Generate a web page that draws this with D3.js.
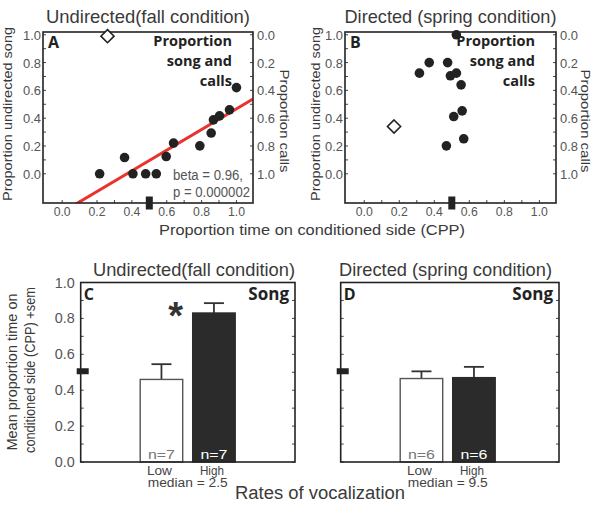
<!DOCTYPE html>
<html><head><meta charset="utf-8">
<script src="https://cdn.jsdelivr.net/npm/d3@7"></script>
<style>body{margin:0;background:#fff}</style>
</head><body><svg id="c" width="601" height="507"></svg>
<script>
// ---------- data ----------
const cppTicks = [0, 0.2, 0.4, 0.6, 0.8, 1.0];
const songTicks = [0, 0.2, 0.4, 0.6, 0.8, 1.0];
const callTicks = [0, 0.2, 0.4, 0.6, 0.8, 1.0];
const aCPP  = [0.215, 0.358, 0.406, 0.479, 0.54, 0.597, 0.639, 0.79, 0.855, 0.868, 0.903, 0.96, 1.0];
const aSong = [0.0, 0.117, 0.0, 0.0, 0.0, 0.124, 0.221, 0.201, 0.293, 0.388, 0.417, 0.46, 0.62];
const aDiamondCPP = [0.26], aDiamondSong = [0.99];
const bCPP  = [0.526, 0.315, 0.371, 0.476, 0.492, 0.526, 0.553, 0.559, 0.511, 0.568, 0.469];
const bSong = [1.0, 0.724, 0.80, 0.80, 0.705, 0.724, 0.64, 0.453, 0.412, 0.252, 0.201];
const bDiamondCPP = [0.17], bDiamondSong = [0.34];
const chance = 0.5;
const regSlope = 0.744, regIntercept = -0.276;
const barCategories = ["Low", "High"];
const barTicks = [0, 0.2, 0.4, 0.6, 0.8, 1.0];
const cMeans = [0.46, 0.83], cSem = [0.085, 0.055], cN = ["n=7", "n=7"];
const dMeans = [0.465, 0.47], dSem = [0.04, 0.06], dN = ["n=6", "n=6"];

// ---------- drawing ----------
const SANS = "'Liberation Sans',Arial,sans-serif";
const BOLD = "'Open Sans','Noto Sans',sans-serif";
const TXT = "#3a3a3a";
const svg = d3.select("#c");

function txt(g, o) {
  const t = g.append("text")
    .attr("transform", `translate(${o.x},${o.y})` + (o.rot ? ` rotate(${o.rot})` : ""))
    .attr("text-anchor", o.anchor || "start")
    .attr("font-family", o.family || SANS).attr("font-size", o.size || 14)
    .attr("font-weight", o.weight || 400).attr("fill", o.fill || TXT).text(o.text);
  if (o.len) t.attr("textLength", o.len).attr("lengthAdjust", "spacingAndGlyphs");
  return t;
}

function frame(g, x0, x1, y0, y1) {
  g.append("rect").attr("x", x0).attr("y", y1).attr("width", x1 - x0).attr("height", y0 - y1)
    .attr("fill", "none").attr("stroke", "#222").attr("stroke-width", 1.6);
}

function scatterPanel(opt) {
  const g = svg.append("g");
  const x = d3.scaleLinear([-0.11, 1.095], opt.xr);
  const y = d3.scaleLinear([-0.21, 1.02], [203, 32]);
  const [L, R] = opt.xr;
  const minor = d3.range(0, 1.01, 0.1);
  g.selectAll(".bt").data(minor).join("line")
    .attr("x1", d => x(d)).attr("x2", d => x(d)).attr("y1", 203).attr("y2", 200).attr("stroke", "#444");
  g.selectAll(".lt").data(minor).join("line")
    .attr("x1", L).attr("x2", L + 3).attr("y1", d => y(d)).attr("y2", d => y(d)).attr("stroke", "#444");
  g.selectAll(".rt").data(minor).join("line")
    .attr("x1", R).attr("x2", R - 3).attr("y1", d => y(d)).attr("y2", d => y(d)).attr("stroke", "#444");
  cppTicks.forEach(d => txt(g, {x: x(d), y: 216, anchor: "middle", size: 12.5, len: 17, fill: "#555", text: d.toFixed(1)}));
  songTicks.forEach(d => txt(g, {x: L - 2, y: y(d) + 5, anchor: "end", size: 13.5, len: 18, fill: "#555", text: d.toFixed(1)}));
  callTicks.forEach(d => txt(g, {x: R + 4, y: y(1 - d) + 5, size: 13.5, len: 18, fill: "#555", text: d.toFixed(1)}));
  if (opt.reg) {
    const id = "clip" + opt.letter;
    g.append("clipPath").attr("id", id).append("rect")
      .attr("x", L).attr("y", 32).attr("width", R - L).attr("height", 171);
    const xs = x.domain();
    g.append("line").attr("clip-path", `url(#${id})`)
      .attr("x1", x(xs[0])).attr("y1", y(regIntercept + regSlope * xs[0]))
      .attr("x2", x(xs[1])).attr("y2", y(regIntercept + regSlope * xs[1]))
      .attr("stroke", "#e8332e").attr("stroke-width", 3);
  }
  frame(g, L, R, 203, 32);
  g.selectAll(".pt").data(opt.cpp.map((c, i) => [c, opt.song[i]])).join("circle")
    .attr("cx", d => x(d[0])).attr("cy", d => y(d[1])).attr("r", 4.8).attr("fill", "#222");
  g.selectAll(".dm").data(opt.dcpp.map((c, i) => [c, opt.dsong[i]])).join("path")
    .attr("d", d3.symbol(d3.symbolDiamond2, 110))
    .attr("transform", d => `translate(${x(d[0])},${y(d[1])})`)
    .attr("fill", "#fff").attr("stroke", "#222").attr("stroke-width", 1.6);
  g.append("rect").attr("x", x(chance) - 3.5).attr("y", 196.5).attr("width", 7).attr("height", 13).attr("fill", "#222");
  txt(g, {x: (L + R) / 2, y: 23, anchor: "middle", size: 18.5, len: opt.titleLen, text: opt.title});
  txt(g, {x: opt.leftTitleX, y: 114, rot: -90, anchor: "middle", size: 13.5, len: 174, text: "Proportion undirected song"});
  txt(g, {x: opt.rightTitleX, y: 121, rot: 90, anchor: "middle", size: 13.5, len: 103, text: "Proportion calls"});
  txt(g, {x: L + 5, y: 48, family: BOLD, weight: 700, size: 16, fill: "#222", text: opt.letter});
  ["Proportion", "song and", "calls"].forEach((t, i) =>
    txt(g, {x: R - 21, y: 46 + i * 20, anchor: "end", family: BOLD, weight: 700, size: 14.5, fill: "#222", text: t}));
  return g;
}

const gA = scatterPanel({xr: [43, 253], cpp: aCPP, song: aSong, dcpp: aDiamondCPP, dsong: aDiamondSong,
  reg: true, letter: "A", title: "Undirected(fall condition)", titleLen: 204, leftTitleX: 12, rightTitleX: 280});
txt(gA, {x: 173, y: 180, size: 14, len: 70, fill: "#555", text: "beta = 0.96,"});
txt(gA, {x: 173, y: 197, size: 14, len: 77, fill: "#555", text: "p = 0.000002"});
scatterPanel({xr: [345, 556], cpp: bCPP, song: bSong, dcpp: bDiamondCPP, dsong: bDiamondSong,
  reg: false, letter: "B", title: "Directed (spring condition)", titleLen: 212, leftTitleX: 320, rightTitleX: 581});

txt(svg, {x: 312, y: 235, anchor: "middle", size: 15.5, len: 306, text: "Proportion time on conditioned side (CPP)"});

function barPanel(opt) {
  const g = svg.append("g");
  const [L, R] = opt.xr;
  const y = d3.scaleLinear([0, 1], [462, 282.5]);
  const x = d3.scaleBand(barCategories, [L + 59.5, L + 154.5]).paddingInner(0.19).paddingOuter(0);
  const minor = d3.range(0, 1.01, 0.1);
  g.selectAll(".lt").data(minor).join("line")
    .attr("x1", L).attr("x2", L + 3).attr("y1", d => y(d)).attr("y2", d => y(d)).attr("stroke", "#444");
  g.selectAll(".rt").data(minor).join("line")
    .attr("x1", R).attr("x2", R - 3).attr("y1", d => y(d)).attr("y2", d => y(d)).attr("stroke", "#444");
  if (opt.labels) {
    barTicks.forEach(d => txt(g, {x: L - 6, y: y(d) + 5, anchor: "end", size: 14, len: 20, fill: "#555", text: d.toFixed(1)}));
  }
  const data = barCategories.map((c, i) => ({c, m: opt.means[i], s: opt.sem[i], n: opt.n[i], i}));
  const cx = d => x(d.c) + x.bandwidth() / 2;
  g.selectAll(".eb").data(data).join("line")
    .attr("x1", cx).attr("x2", cx)
    .attr("y1", d => y(d.m)).attr("y2", d => y(d.m + d.s)).attr("stroke", "#333").attr("stroke-width", 1.8);
  g.selectAll(".ec").data(data).join("line")
    .attr("x1", d => cx(d) - 10).attr("x2", d => cx(d) + 10)
    .attr("y1", d => y(d.m + d.s)).attr("y2", d => y(d.m + d.s)).attr("stroke", "#333").attr("stroke-width", 1.8);
  g.selectAll(".bar").data(data).join("rect")
    .attr("x", d => x(d.c)).attr("width", x.bandwidth())
    .attr("y", d => y(d.m)).attr("height", d => y(0) - y(d.m))
    .attr("fill", d => d.i === 0 ? "#fff" : "#2b2b2b").attr("stroke", d => d.i === 0 ? "#555" : "#2b2b2b")
    .attr("stroke-width", 1.4);
  data.forEach(d => {
    txt(g, {x: cx(d), y: 459, anchor: "middle", size: 13, len: 27, fill: d.i === 0 ? "#777" : "#fff", text: d.n});
    txt(g, {x: cx(d) - 2, y: 474.5, anchor: "middle", size: 12, len: d.i === 0 ? 25 : 24, fill: "#444", text: d.c});
  });
  txt(g, {x: L + 107, y: 487, anchor: "middle", size: 12, len: 80, fill: "#444", text: opt.median});
  frame(g, L, R, 462, 282.5);
  g.append("rect").attr("x", L - 4).attr("y", y(chance) - 4).attr("width", 12).attr("height", 6).attr("fill", "#222");
  txt(g, {x: opt.titleX, y: 276, anchor: "middle", size: 18.5, len: opt.titleLen, text: opt.title});
  txt(g, {x: L + 3, y: 300, family: BOLD, weight: 700, size: 16, fill: "#222", text: opt.letter});
  txt(g, {x: R - 6, y: 300, anchor: "end", family: BOLD, weight: 700, size: 17, fill: "#222", text: "Song"});
  if (opt.star) {
    txt(g, {x: x("High") - 17, y: 329, anchor: "middle", weight: 700, size: 38, fill: "#333", text: "*"});
  }
  return g;
}

barPanel({xr: [80.7, 295], means: cMeans, sem: cSem, n: cN, labels: true, letter: "C",
  title: "Undirected(fall condition)", titleX: 194, titleLen: 202, median: "median = 2.5", star: true});
barPanel({xr: [340.7, 559], means: dMeans, sem: dSem, n: dN, labels: false, letter: "D",
  title: "Directed (spring condition)", titleX: 445.5, titleLen: 213, median: "median = 9.5", star: false});

txt(svg, {x: 17, y: 372, rot: -90, anchor: "middle", size: 14.5, len: 157, text: "Mean proportion time on"});
txt(svg, {x: 35, y: 370, rot: -90, anchor: "middle", size: 14.5, len: 166, text: "conditioned side (CPP) +sem"});
txt(svg, {x: 320, y: 499, anchor: "middle", size: 18, len: 170, text: "Rates of vocalization"});
</script></body></html>
